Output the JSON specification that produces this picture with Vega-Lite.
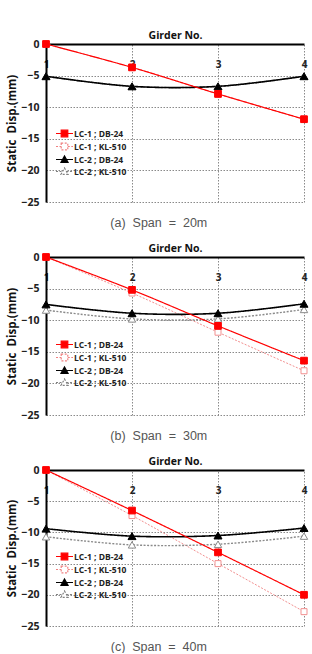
{
  "$schema": "https://vega.github.io/schema/vega-lite/v6.json",
  "background": "white",
  "padding": {"left": 6, "top": 30, "right": 6, "bottom": 0},
  "spacing": 14,
  "config": {
    "view": {"stroke": null},
    "font": "Open Sans",
    "axis": {
      "domainColor": "#000000",
      "domainWidth": 2,
      "ticks": false,
      "grid": true,
      "gridColor": "#8a8a8a",
      "gridDash": [1.5, 1.5],
      "gridWidth": 1,
      "labelFont": "Open Sans",
      "labelFontWeight": "bold",
      "labelColor": "#222222",
      "titleFont": "Open Sans",
      "titleFontWeight": "bold",
      "titleColor": "#111111"
    },
    "legend": {
      "padding": 0,
      "labelFont": "Open Sans",
      "labelFontSize": 8.5,
      "labelFontWeight": "bold",
      "labelColor": "#222222",
      "labelOffset": 5,
      "rowPadding": 0,
      "symbolSize": 49,
      "symbolStrokeWidth": 1.2
    },
    "title": {
      "orient": "bottom",
      "anchor": "middle",
      "frame": "bounds",
      "font": "Liberation Sans",
      "fontSize": 12.5,
      "fontWeight": "normal",
      "color": "#555555",
      "offset": 9
    }
  },
  "datasets": {
    "span20": [
      {"girder": 1, "series": "LC-1 ; KL-510", "disp": 0},
      {"girder": 2, "series": "LC-1 ; KL-510", "disp": -3.7},
      {"girder": 3, "series": "LC-1 ; KL-510", "disp": -7.9},
      {"girder": 4, "series": "LC-1 ; KL-510", "disp": -11.9},
      {"girder": 1, "series": "LC-2 ; KL-510", "disp": -5.1},
      {"girder": 2, "series": "LC-2 ; KL-510", "disp": -6.7},
      {"girder": 3, "series": "LC-2 ; KL-510", "disp": -6.7},
      {"girder": 4, "series": "LC-2 ; KL-510", "disp": -5.1},
      {"girder": 1, "series": "LC-2 ; DB-24", "disp": -5.1},
      {"girder": 2, "series": "LC-2 ; DB-24", "disp": -6.7},
      {"girder": 3, "series": "LC-2 ; DB-24", "disp": -6.7},
      {"girder": 4, "series": "LC-2 ; DB-24", "disp": -5.1},
      {"girder": 1, "series": "LC-1 ; DB-24", "disp": 0},
      {"girder": 2, "series": "LC-1 ; DB-24", "disp": -3.7},
      {"girder": 3, "series": "LC-1 ; DB-24", "disp": -7.9},
      {"girder": 4, "series": "LC-1 ; DB-24", "disp": -11.9}
    ],
    "span30": [
      {"girder": 1, "series": "LC-1 ; KL-510", "disp": 0},
      {"girder": 2, "series": "LC-1 ; KL-510", "disp": -5.7},
      {"girder": 3, "series": "LC-1 ; KL-510", "disp": -11.9},
      {"girder": 4, "series": "LC-1 ; KL-510", "disp": -18.0},
      {"girder": 1, "series": "LC-2 ; KL-510", "disp": -8.4},
      {"girder": 2, "series": "LC-2 ; KL-510", "disp": -9.8},
      {"girder": 3, "series": "LC-2 ; KL-510", "disp": -9.8},
      {"girder": 4, "series": "LC-2 ; KL-510", "disp": -8.3},
      {"girder": 1, "series": "LC-2 ; DB-24", "disp": -7.5},
      {"girder": 2, "series": "LC-2 ; DB-24", "disp": -8.9},
      {"girder": 3, "series": "LC-2 ; DB-24", "disp": -8.9},
      {"girder": 4, "series": "LC-2 ; DB-24", "disp": -7.4},
      {"girder": 1, "series": "LC-1 ; DB-24", "disp": 0},
      {"girder": 2, "series": "LC-1 ; DB-24", "disp": -5.2},
      {"girder": 3, "series": "LC-1 ; DB-24", "disp": -10.9},
      {"girder": 4, "series": "LC-1 ; DB-24", "disp": -16.4}
    ],
    "span40": [
      {"girder": 1, "series": "LC-1 ; KL-510", "disp": 0},
      {"girder": 2, "series": "LC-1 ; KL-510", "disp": -7.3},
      {"girder": 3, "series": "LC-1 ; KL-510", "disp": -15.0},
      {"girder": 4, "series": "LC-1 ; KL-510", "disp": -22.7},
      {"girder": 1, "series": "LC-2 ; KL-510", "disp": -10.7},
      {"girder": 2, "series": "LC-2 ; KL-510", "disp": -12.0},
      {"girder": 3, "series": "LC-2 ; KL-510", "disp": -11.9},
      {"girder": 4, "series": "LC-2 ; KL-510", "disp": -10.6},
      {"girder": 1, "series": "LC-2 ; DB-24", "disp": -9.4},
      {"girder": 2, "series": "LC-2 ; DB-24", "disp": -10.6},
      {"girder": 3, "series": "LC-2 ; DB-24", "disp": -10.5},
      {"girder": 4, "series": "LC-2 ; DB-24", "disp": -9.3},
      {"girder": 1, "series": "LC-1 ; DB-24", "disp": 0},
      {"girder": 2, "series": "LC-1 ; DB-24", "disp": -6.5},
      {"girder": 3, "series": "LC-1 ; DB-24", "disp": -13.2},
      {"girder": 4, "series": "LC-1 ; DB-24", "disp": -20.0}
    ]
  },
  "resolve": {
    "scale": {"stroke": "independent", "fill": "independent", "shape": "independent", "size": "independent", "strokeWidth": "independent", "strokeDash": "independent"},
    "legend": {"stroke": "independent", "fill": "independent", "shape": "independent", "size": "independent", "strokeWidth": "independent", "strokeDash": "independent"}
  },
  "vconcat": [
    {
      "width": 258,
      "height": 158,
      "data": {"name": "span20"},
      "title": {"text": "(a)\u00a0\u00a0Span\u00a0\u00a0=\u00a0\u00a020m"},
      "resolve": {"scale": {"shape": "independent"}},
      "encoding": {
        "x": {"field": "girder", "type": "quantitative", "scale": {"domain": [1, 4], "nice": false, "zero": false},
          "axis": {"orient": "top", "values": [1, 2, 3, 4], "format": "d", "title": "Girder No.", "titleFontSize": 10.5, "titleY": -4, "titleBaseline": "bottom", "labelFontSize": 10, "labelPadding": -25, "labelFlush": false, "labelBound": false}},
        "y": {"field": "disp", "type": "quantitative", "scale": {"domain": [-25, 0], "nice": false},
          "axis": {"values": [0, -5, -10, -15, -20, -25], "title": "Static\u00a0\u00a0Disp.(mm)", "titleFontSize": 11.5, "titlePadding": 3, "labelFontSize": 10.5, "labelPadding": 7}}
      },
      "layer": [
        {
          "mark": {"type": "line", "interpolate": "catmull-rom"},
          "encoding": {
            "stroke": {"field": "series", "type": "nominal", "legend": null, "scale": {"domain": ["LC-1 ; KL-510", "LC-1 ; DB-24", "LC-2 ; KL-510", "LC-2 ; DB-24"], "range": ["#f29090", "#ff0000", "#8a8a8a", "#000000"]}},
            "strokeWidth": {"field": "series", "type": "nominal", "legend": null, "scale": {"domain": ["LC-1 ; KL-510", "LC-1 ; DB-24", "LC-2 ; KL-510", "LC-2 ; DB-24"], "range": [1, 1.6, 1, 1.3]}},
            "strokeDash": {"field": "series", "type": "nominal", "legend": null, "scale": {"domain": ["LC-1 ; KL-510", "LC-1 ; DB-24", "LC-2 ; KL-510", "LC-2 ; DB-24"], "range": [[2, 1.5], [1, 0], [2, 1.5], [1, 0]]}}
          }
        },
        {
          "mark": {"type": "point", "filled": true, "strokeWidth": 1, "opacity": 1},
          "encoding": {
            "stroke": {"field": "series", "type": "nominal", "legend": null},
            "fill": {"field": "series", "type": "nominal", "legend": null, "scale": {"domain": ["LC-1 ; KL-510", "LC-1 ; DB-24", "LC-2 ; KL-510", "LC-2 ; DB-24"], "range": ["#ffffff", "#ff0000", "#ffffff", "#000000"]}},
            "size": {"field": "series", "type": "nominal", "legend": null, "scale": {"domain": ["LC-1 ; KL-510", "LC-1 ; DB-24", "LC-2 ; KL-510", "LC-2 ; DB-24"], "range": [36, 64, 36, 45]}},
            "shape": {"field": "series", "type": "nominal", "legend": null,
              "scale": {"domain": ["LC-1 ; KL-510", "LC-1 ; DB-24", "LC-2 ; KL-510", "LC-2 ; DB-24"], "range": ["square", "square", "triangle-up", "triangle-up"]}}
          }
        },
        {
          "mark": {"type": "point", "opacity": 0},
          "encoding": {
            "shape": {"field": "series", "type": "nominal",
              "scale": {"domain": ["LC-1 ; DB-24", "LC-1 ; KL-510", "LC-2 ; DB-24", "LC-2 ; KL-510"], "range": ["M-2.43,0L2.43,0M-0.94,-0.94L0.94,-0.94L0.94,0.94L-0.94,0.94Z", "M-2.43,0L-0.94,0M0.94,0L2.43,0M-0.94,-0.94L0.94,-0.94L0.94,0.94L-0.94,0.94Z", "M-2.43,0L2.43,0M0,-1L1,0.8L-1,0.8Z", "M-2.43,0L-0.56,0M0.56,0L2.43,0M0,-1L1,0.8L-1,0.8Z"]},
              "legend": {"title": null, "orient": "none", "legendX": 14, "legendY": 85, "encoding": {"symbols": {
                "opacity": {"value": 1},
                "fill": {"value": {"expr": "['#ff0000','#ffffff','#000000','#ffffff'][datum.index]"}},
                "stroke": {"value": {"expr": "['#ff0000','#f08080','#000000','#808080'][datum.index]"}},
                "strokeDash": {"value": {"expr": "[[1,0],[2,1.5],[1,0],[2,1.5]][datum.index]"}}
              }}}}
          }
        }
      ]
    },
    {
      "width": 258,
      "height": 158,
      "data": {"name": "span30"},
      "title": {"text": "(b)\u00a0\u00a0Span\u00a0\u00a0=\u00a0\u00a030m"},
      "resolve": {"scale": {"shape": "independent"}},
      "encoding": {
        "x": {"field": "girder", "type": "quantitative", "scale": {"domain": [1, 4], "nice": false, "zero": false},
          "axis": {"orient": "top", "values": [1, 2, 3, 4], "format": "d", "title": "Girder No.", "titleFontSize": 10.5, "titleY": -4, "titleBaseline": "bottom", "labelFontSize": 10, "labelPadding": -25, "labelFlush": false, "labelBound": false}},
        "y": {"field": "disp", "type": "quantitative", "scale": {"domain": [-25, 0], "nice": false},
          "axis": {"values": [0, -5, -10, -15, -20, -25], "title": "Static\u00a0\u00a0Disp.(mm)", "titleFontSize": 11.5, "titlePadding": 3, "labelFontSize": 10.5, "labelPadding": 7}}
      },
      "layer": [
        {
          "mark": {"type": "line", "interpolate": "catmull-rom"},
          "encoding": {
            "stroke": {"field": "series", "type": "nominal", "legend": null, "scale": {"domain": ["LC-1 ; KL-510", "LC-1 ; DB-24", "LC-2 ; KL-510", "LC-2 ; DB-24"], "range": ["#f29090", "#ff0000", "#8a8a8a", "#000000"]}},
            "strokeWidth": {"field": "series", "type": "nominal", "legend": null, "scale": {"domain": ["LC-1 ; KL-510", "LC-1 ; DB-24", "LC-2 ; KL-510", "LC-2 ; DB-24"], "range": [1, 1.6, 1, 1.3]}},
            "strokeDash": {"field": "series", "type": "nominal", "legend": null, "scale": {"domain": ["LC-1 ; KL-510", "LC-1 ; DB-24", "LC-2 ; KL-510", "LC-2 ; DB-24"], "range": [[2, 1.5], [1, 0], [2, 1.5], [1, 0]]}}
          }
        },
        {
          "mark": {"type": "point", "filled": true, "strokeWidth": 1, "opacity": 1},
          "encoding": {
            "stroke": {"field": "series", "type": "nominal", "legend": null},
            "fill": {"field": "series", "type": "nominal", "legend": null, "scale": {"domain": ["LC-1 ; KL-510", "LC-1 ; DB-24", "LC-2 ; KL-510", "LC-2 ; DB-24"], "range": ["#ffffff", "#ff0000", "#ffffff", "#000000"]}},
            "size": {"field": "series", "type": "nominal", "legend": null, "scale": {"domain": ["LC-1 ; KL-510", "LC-1 ; DB-24", "LC-2 ; KL-510", "LC-2 ; DB-24"], "range": [36, 64, 36, 45]}},
            "shape": {"field": "series", "type": "nominal", "legend": null,
              "scale": {"domain": ["LC-1 ; KL-510", "LC-1 ; DB-24", "LC-2 ; KL-510", "LC-2 ; DB-24"], "range": ["square", "square", "triangle-up", "triangle-up"]}}
          }
        },
        {
          "mark": {"type": "point", "opacity": 0},
          "encoding": {
            "shape": {"field": "series", "type": "nominal",
              "scale": {"domain": ["LC-1 ; DB-24", "LC-1 ; KL-510", "LC-2 ; DB-24", "LC-2 ; KL-510"], "range": ["M-2.43,0L2.43,0M-0.94,-0.94L0.94,-0.94L0.94,0.94L-0.94,0.94Z", "M-2.43,0L-0.94,0M0.94,0L2.43,0M-0.94,-0.94L0.94,-0.94L0.94,0.94L-0.94,0.94Z", "M-2.43,0L2.43,0M0,-1L1,0.8L-1,0.8Z", "M-2.43,0L-0.56,0M0.56,0L2.43,0M0,-1L1,0.8L-1,0.8Z"]},
              "legend": {"title": null, "orient": "none", "legendX": 14, "legendY": 83, "encoding": {"symbols": {
                "opacity": {"value": 1},
                "fill": {"value": {"expr": "['#ff0000','#ffffff','#000000','#ffffff'][datum.index]"}},
                "stroke": {"value": {"expr": "['#ff0000','#f08080','#000000','#808080'][datum.index]"}},
                "strokeDash": {"value": {"expr": "[[1,0],[2,1.5],[1,0],[2,1.5]][datum.index]"}}
              }}}}
          }
        }
      ]
    },
    {
      "width": 258,
      "height": 156,
      "data": {"name": "span40"},
      "title": {"text": "(c)\u00a0\u00a0Span\u00a0\u00a0=\u00a0\u00a040m"},
      "resolve": {"scale": {"shape": "independent"}},
      "encoding": {
        "x": {"field": "girder", "type": "quantitative", "scale": {"domain": [1, 4], "nice": false, "zero": false},
          "axis": {"orient": "top", "values": [1, 2, 3, 4], "format": "d", "title": "Girder No.", "titleFontSize": 10.5, "titleY": -4, "titleBaseline": "bottom", "labelFontSize": 10, "labelPadding": -25, "labelFlush": false, "labelBound": false}},
        "y": {"field": "disp", "type": "quantitative", "scale": {"domain": [-25, 0], "nice": false},
          "axis": {"values": [0, -5, -10, -15, -20, -25], "title": "Static\u00a0\u00a0Disp.(mm)", "titleFontSize": 11.5, "titlePadding": 3, "labelFontSize": 10.5, "labelPadding": 7}}
      },
      "layer": [
        {
          "mark": {"type": "line", "interpolate": "catmull-rom"},
          "encoding": {
            "stroke": {"field": "series", "type": "nominal", "legend": null, "scale": {"domain": ["LC-1 ; KL-510", "LC-1 ; DB-24", "LC-2 ; KL-510", "LC-2 ; DB-24"], "range": ["#f29090", "#ff0000", "#8a8a8a", "#000000"]}},
            "strokeWidth": {"field": "series", "type": "nominal", "legend": null, "scale": {"domain": ["LC-1 ; KL-510", "LC-1 ; DB-24", "LC-2 ; KL-510", "LC-2 ; DB-24"], "range": [1, 1.6, 1, 1.3]}},
            "strokeDash": {"field": "series", "type": "nominal", "legend": null, "scale": {"domain": ["LC-1 ; KL-510", "LC-1 ; DB-24", "LC-2 ; KL-510", "LC-2 ; DB-24"], "range": [[2, 1.5], [1, 0], [2, 1.5], [1, 0]]}}
          }
        },
        {
          "mark": {"type": "point", "filled": true, "strokeWidth": 1, "opacity": 1},
          "encoding": {
            "stroke": {"field": "series", "type": "nominal", "legend": null},
            "fill": {"field": "series", "type": "nominal", "legend": null, "scale": {"domain": ["LC-1 ; KL-510", "LC-1 ; DB-24", "LC-2 ; KL-510", "LC-2 ; DB-24"], "range": ["#ffffff", "#ff0000", "#ffffff", "#000000"]}},
            "size": {"field": "series", "type": "nominal", "legend": null, "scale": {"domain": ["LC-1 ; KL-510", "LC-1 ; DB-24", "LC-2 ; KL-510", "LC-2 ; DB-24"], "range": [36, 64, 36, 45]}},
            "shape": {"field": "series", "type": "nominal", "legend": null,
              "scale": {"domain": ["LC-1 ; KL-510", "LC-1 ; DB-24", "LC-2 ; KL-510", "LC-2 ; DB-24"], "range": ["square", "square", "triangle-up", "triangle-up"]}}
          }
        },
        {
          "mark": {"type": "point", "opacity": 0},
          "encoding": {
            "shape": {"field": "series", "type": "nominal",
              "scale": {"domain": ["LC-1 ; DB-24", "LC-1 ; KL-510", "LC-2 ; DB-24", "LC-2 ; KL-510"], "range": ["M-2.43,0L2.43,0M-0.94,-0.94L0.94,-0.94L0.94,0.94L-0.94,0.94Z", "M-2.43,0L-0.94,0M0.94,0L2.43,0M-0.94,-0.94L0.94,-0.94L0.94,0.94L-0.94,0.94Z", "M-2.43,0L2.43,0M0,-1L1,0.8L-1,0.8Z", "M-2.43,0L-0.56,0M0.56,0L2.43,0M0,-1L1,0.8L-1,0.8Z"]},
              "legend": {"title": null, "orient": "none", "legendX": 14, "legendY": 82, "encoding": {"symbols": {
                "opacity": {"value": 1},
                "fill": {"value": {"expr": "['#ff0000','#ffffff','#000000','#ffffff'][datum.index]"}},
                "stroke": {"value": {"expr": "['#ff0000','#f08080','#000000','#808080'][datum.index]"}},
                "strokeDash": {"value": {"expr": "[[1,0],[2,1.5],[1,0],[2,1.5]][datum.index]"}}
              }}}}
          }
        }
      ]
    }
  ]
}
